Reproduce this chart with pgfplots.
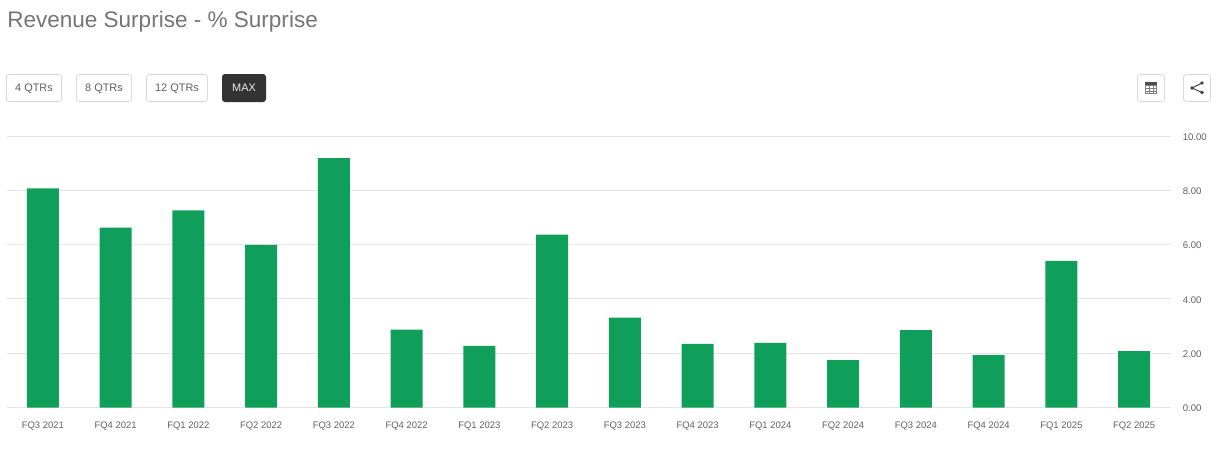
\documentclass[border=0pt]{standalone}
\usepackage{fontspec}
\setmainfont{Liberation Sans}
\usepackage{pgfplots}
\pgfplotsset{compat=1.18}
\definecolor{barg}{HTML}{109F5A}
\definecolor{gridc}{HTML}{E6E6E6}
\definecolor{titc}{HTML}{757575}
\definecolor{lab}{HTML}{616161}
\definecolor{btn}{HTML}{D9D9D9}
\begin{document}
\begin{tikzpicture}[x=0.75pt,y=-0.75pt]
\path[use as bounding box] (0,0) rectangle (1224,461);
\node[anchor=base west,inner sep=0pt,text=titc,font=\fontsize{16.9pt}{18pt}\selectfont] at (7,27) {Revenue Surprise - \% Surprise};
\tikzset{btn/.style={draw=btn,line width=0.6pt,rounded corners=2.2pt,fill=white}}
\newcommand{\btnlab}[3]{\draw[btn] (#1,74.5) rectangle (#2,101.5);
\node[text=lab,font=\fontsize{8.2pt}{10pt}\selectfont,inner sep=0pt,anchor=base] at ({(#1+#2)/2},91.5) {#3};}
\btnlab{6.5}{61.5}{4 QTRs}
\btnlab{76.5}{131.5}{8 QTRs}
\btnlab{146.5}{207.5}{12 QTRs}
\fill[fill=black!80,rounded corners=2.2pt] (222,74) rectangle (266,102);
\node[text=white!92!black,font=\fontsize{8.2pt}{10pt}\selectfont,inner sep=0pt,anchor=base] at (244,91.5) {MAX};
\draw[btn] (1137.5,74.5) rectangle (1164.5,101.5);
\draw[btn] (1183.5,74.5) rectangle (1210.5,101.5);
% table icon
\fill[black!70] (1145,82) rectangle (1157,85);
\draw[black!50,line width=0.4pt] (1145.5,85) rectangle (1156.5,93.5);
\foreach \xx in {1149,1153}{\draw[black!50,line width=0.3pt] (\xx,85)--(\xx,93.5);}
\foreach \yy in {88,91}{\draw[black!50,line width=0.3pt] (1145.5,\yy)--(1156.5,\yy);}
% share icon
\draw[black!75,line width=0.7pt] (1202,83)--(1192,88)--(1202,92.5);
\fill[black!75] (1202,83) circle (1.9) (1192,88) circle (1.9) (1202,92.5) circle (1.9);
\coordinate (o) at (6.5,407.5);
\begin{axis}[
  at={(o)},anchor=south west,scale only axis,
  width=873pt,height=203.6pt,
  xmin=-0.5,xmax=15.5,ymin=0,ymax=10,
  axis line style={draw=none},
  ymajorgrids,grid style={gridc,line width=0.75pt},
  ytick={0,2,4,6,8,10},
  yticklabel pos=right,
  yticklabel={\pgfmathprintnumber[fixed,fixed zerofill,precision=2,assume math mode=true]{\tick}},
  yticklabel style={anchor=west,xshift=9pt,yshift=-0.6pt,text=lab,font=\fontsize{7.2pt}{8pt}\selectfont,inner sep=0pt},
  xtick=data,
  xticklabels={FQ3 2021,FQ4 2021,FQ1 2022,FQ2 2022,FQ3 2022,FQ4 2022,FQ1 2023,FQ2 2023,FQ3 2023,FQ4 2023,FQ1 2024,FQ2 2024,FQ3 2024,FQ4 2024,FQ1 2025,FQ2 2025},
  xticklabel style={text=lab,font=\fontsize{7.1pt}{8pt}\selectfont,inner sep=0pt,anchor=north,yshift=-10.7pt},
  major tick length=0pt,
  clip=false,
]
\addplot[ybar,bar width=24pt,fill=barg,draw=none,bar shift=0pt] coordinates {
(0,8.07)(1,6.63)(2,7.26)(3,5.99)(4,9.19)(5,2.87)(6,2.27)(7,6.37)
(8,3.31)(9,2.34)(10,2.38)(11,1.75)(12,2.85)(13,1.93)(14,5.40)(15,2.08)};
\end{axis}
\end{tikzpicture}
\end{document}
